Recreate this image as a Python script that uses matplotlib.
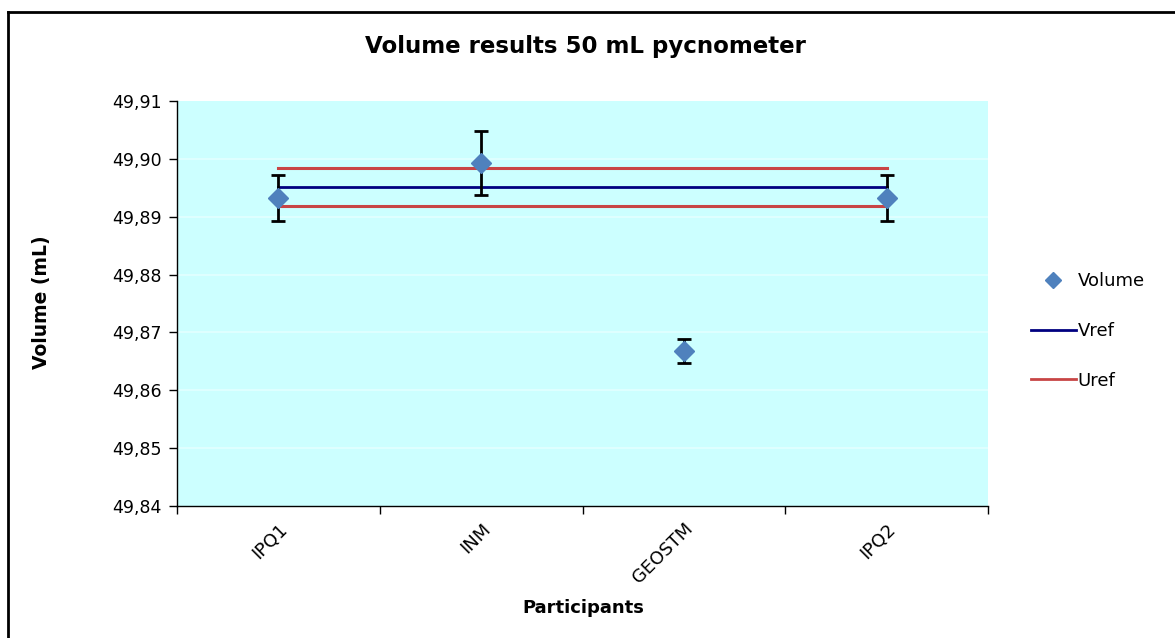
import matplotlib
matplotlib.use("Agg")
import matplotlib.pyplot as plt
from matplotlib.ticker import FuncFormatter, FixedLocator
from matplotlib.lines import Line2D
from matplotlib.transforms import ScaledTranslation
import numpy as np

categories = ["IPQ1", "INM", "GEOSTM", "IPQ2"]
volume = [49.8932, 49.8993, 49.8668, 49.8932]
volume_err = [0.0040, 0.0056, 0.0020, 0.0040]
vref = [49.8952, 49.8952, 49.8952, 49.8952]
uref_upper = [49.8985, 49.8985, 49.8985, 49.8985]
uref_lower = [49.8919, 49.8919, 49.8919, 49.8919]
y_ticks = [49.84, 49.85, 49.86, 49.87, 49.88, 49.89, 49.90, 49.91]

plt.rcParams["font.family"] = ["DejaVu Sans"]

W, H = 1175, 638
fig = plt.figure(figsize=(W / 100, H / 100), dpi=100)
ax = fig.add_axes([177/W, 1-506/H, (988-177)/W, (506-101)/H])
ax.set_facecolor("#CCFFFF")

x = np.arange(len(categories))
for t in y_ticks[1:-1]:
    ax.axhline(t, color="#E2FFFF", lw=1.2, zorder=0)

ax.plot(x, uref_upper, color="#C84545", lw=2.2, zorder=2)
ax.plot(x, vref, color="#000080", lw=2.0, zorder=2)
ax.plot(x, uref_lower, color="#C84545", lw=2.2, zorder=2)
ax.errorbar(x, volume, yerr=volume_err, fmt="none", ecolor="black",
            elinewidth=2, capsize=5, capthick=2, zorder=3)
ax.plot(x, volume, linestyle="none", marker="D", markersize=10,
        color="#4F81BD", zorder=4)

ax.set_xlim(-0.5, len(categories) - 0.5)
ax.set_ylim(49.84, 49.91)
ax.yaxis.set_major_locator(FixedLocator(y_ticks))
ax.yaxis.set_major_formatter(FuncFormatter(lambda v, p: f"{v:.2f}".replace(".", ",")))
ax.set_xticks(x)
ax.set_xticklabels(categories, rotation=45, ha="right", rotation_mode="anchor",
                   fontsize=13)
offset = ScaledTranslation(17/100, 0, fig.dpi_scale_trans)
for lab in ax.get_xticklabels():
    lab.set_transform(lab.get_transform() + offset)
ax.tick_params(axis="x", which="major", length=0, pad=10)
ax.set_xticks(np.arange(-0.5, len(categories)), minor=True)
ax.tick_params(axis="x", which="minor", length=6, width=1, direction="out")
ax.tick_params(axis="y", length=6, width=1, direction="out", labelsize=12.5,
               pad=5)

for s in ["top", "right"]:
    ax.spines[s].set_visible(False)
for s in ["left", "bottom"]:
    ax.spines[s].set_linewidth(1)
    ax.spines[s].set_color("black")

fig.text(583/W, 1-608/H, "Participants", ha="center", va="center",
         fontsize=13, fontweight="bold")
fig.text(42/W, 1-302/H, "Volume (mL)", ha="center", va="center",
         rotation=90, fontsize=13.5, fontweight="bold")
fig.text(585/W, 1-46/H, "Volume results 50 mL pycnometer", ha="center",
         va="center", fontsize=16.5, fontweight="bold")

handles = [
    Line2D([], [], linestyle="none", marker="D", markersize=8, color="#4F81BD"),
    Line2D([], [], color="#000080", lw=2),
    Line2D([], [], color="#C84545", lw=2),
]
fig.legend(handles, ["Volume", "Vref", "Uref"], loc="center left",
           bbox_to_anchor=(1018/W, 1-331/H), frameon=False, fontsize=13,
           handlelength=2.5, handletextpad=0.1, labelspacing=1.75,
           borderpad=0.2)

fig.add_artist(Line2D([8/W, 8/W], [0, 1-12/H], color="black", lw=2,
                      transform=fig.transFigure))
fig.add_artist(Line2D([8/W, 1], [1-12/H, 1-12/H], color="black", lw=2,
                      transform=fig.transFigure))

fig.savefig("out.png", dpi=100, facecolor="white")
